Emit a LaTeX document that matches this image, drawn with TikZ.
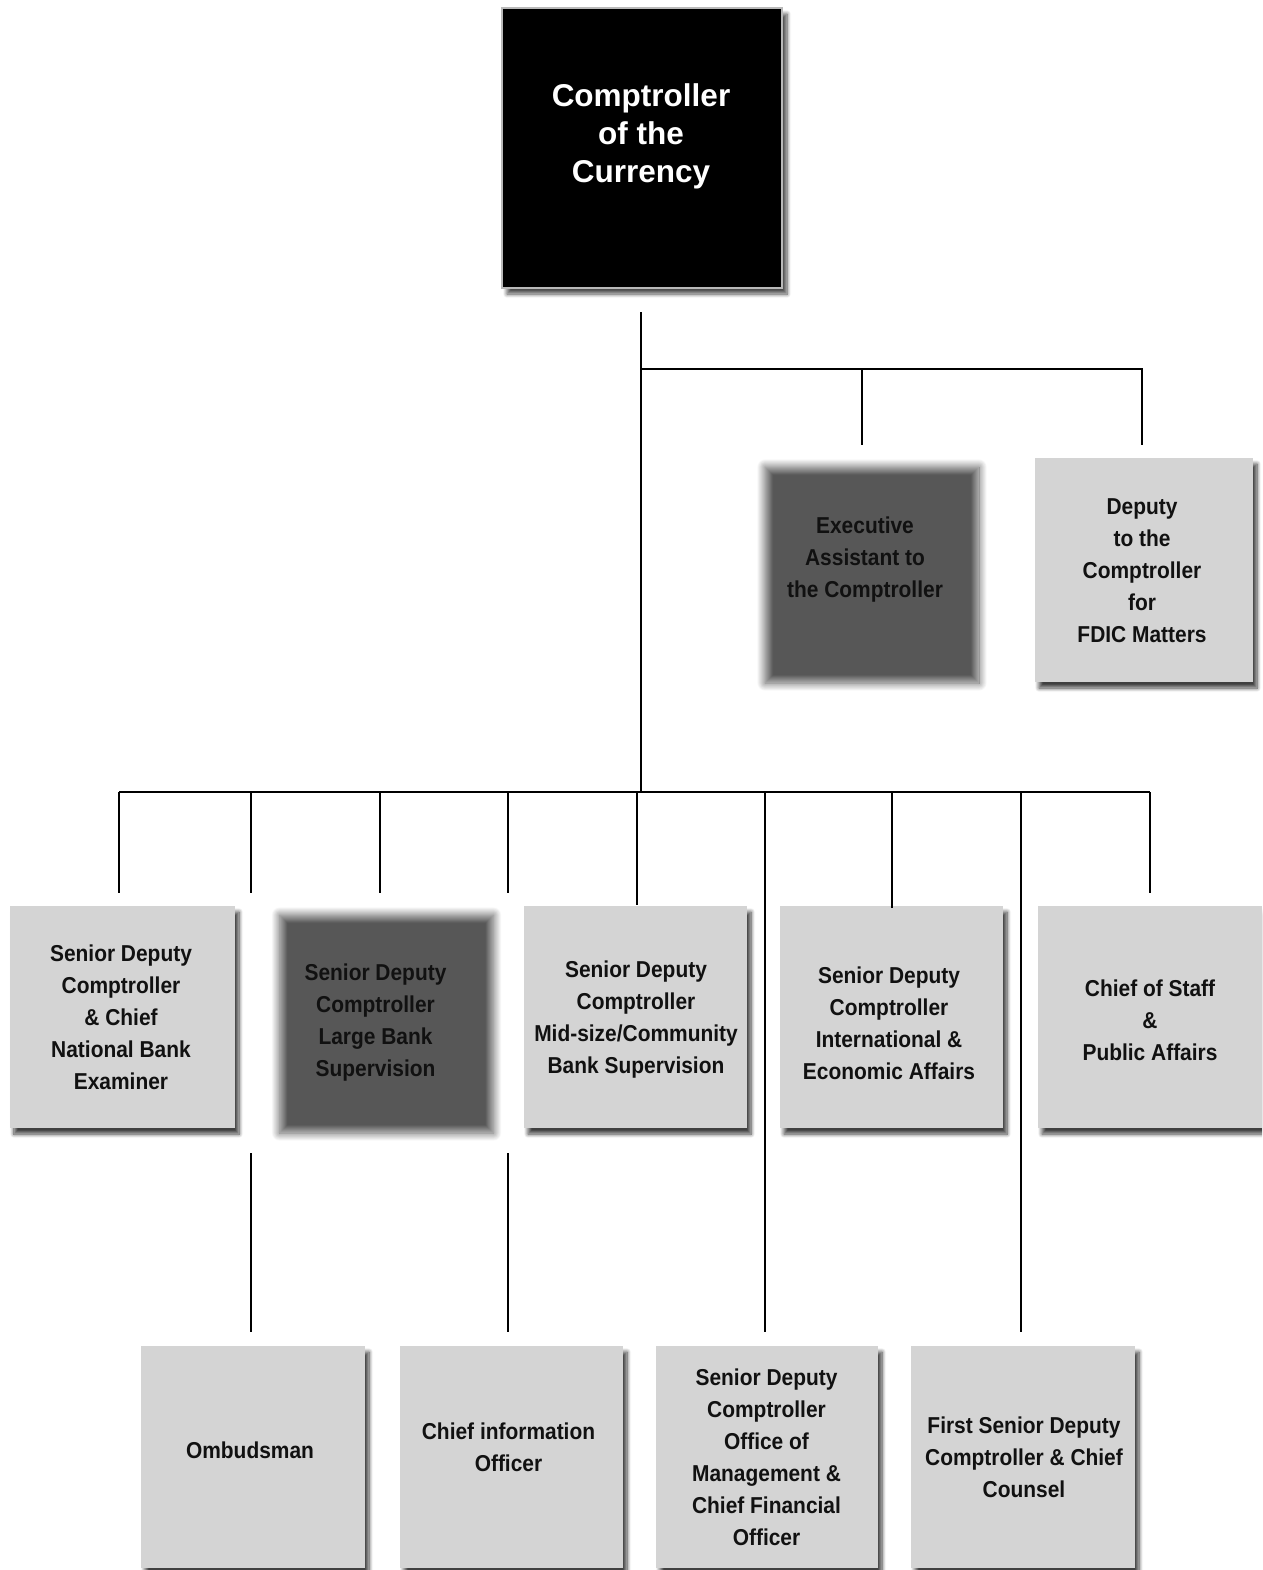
\documentclass[tikz,border=0pt]{standalone}
\usepackage{fontspec}
\setmainfont{Liberation Sans}[FakeStretch=0.91]
\newfontfamily\headfont{Liberation Sans}
\usetikzlibrary{shadows.blur}
\definecolor{boxgray}{HTML}{D4D4D4}
\definecolor{inkgray}{HTML}{111111}
\begin{document}
\begin{tikzpicture}[x=1pt,y=-1pt,
  conn/.style={line width=2.5pt, black, line cap=butt},
  lightbox/.style={fill=boxgray, inner sep=0pt, minimum width=224pt, minimum height=222pt,
    blur shadow={shadow xshift=4pt, shadow yshift=-6pt, shadow opacity=75, shadow blur radius=4pt, shadow blur steps=8}},
  darkbox/.style={inner sep=0pt, minimum width=214pt, minimum height=216pt,
    blur shadow={shadow xshift=0pt, shadow yshift=0pt, shadow opacity=66, shadow blur radius=8pt, shadow blur steps=24}},
  topbox/.style={fill=black, draw=gray!55, line width=2pt, inner sep=0pt, minimum width=280pt, minimum height=280pt,
    blur shadow={shadow xshift=5pt, shadow yshift=-6pt, shadow opacity=70, shadow blur radius=4pt, shadow blur steps=8}},
  txt/.style={align=center, text=inkgray, inner sep=0pt, font=\bfseries\fontsize{23}{32}\selectfont},
  toptxt/.style={align=center, text=white, inner sep=0pt, font=\headfont\bfseries\fontsize{31.5}{38}\selectfont}]
\useasboundingbox (0,0) rectangle (1262,1570);
\clip (0,0) rectangle (1262,1570);

% ---------- boxes ----------
\node[topbox] (top) at (642,148) {};
\node[toptxt] (toptext) at (641,136) {Comptroller\\of the\\Currency};

\node[darkbox] (exec) at (872,575) {};
\node[txt] (exectext) at (865,560) {Executive\\Assistant to\\the Comptroller};

\node[lightbox, minimum width=218pt, minimum height=224pt] (fdic) at (1144,570) {};
\node[txt] (fdictext) at (1142,571) {Deputy\\to the\\Comptroller\\for\\FDIC Matters};

\node[lightbox, minimum width=225pt] (sdcA) at (122.5,1017) {};
\node[txt] (sdcAtext) at (121,1017) {Senior Deputy\\Comptroller\\\& Chief\\National Bank\\Examiner};

\node[darkbox, minimum height=218pt] (sdcB) at (386.5,1024) {};
\node[txt] (sdcBtext) at (375.5,1023) {Senior Deputy\\Comptroller\\Large Bank\\Supervision};

\node[lightbox, minimum width=223pt] (sdcC) at (635.5,1017) {};
\node[txt] (sdcCtext) at (636,1020) {Senior Deputy\\Comptroller\\Mid-size/Community\\Bank Supervision};

\node[lightbox, minimum width=223pt] (sdcD) at (891.5,1017) {};
\node[txt] (sdcDtext) at (889,1023) {Senior Deputy\\Comptroller\\International \&\\Economic Affairs};

\node[lightbox, minimum width=224pt] (cos) at (1150,1017) {};
\node[txt] (costext) at (1150,1020) {Chief of Staff\\\&\\Public Affairs};

\node[lightbox, minimum width=224pt] (omb) at (253,1457) {};
\node[txt] (ombtext) at (250,1450) {Ombudsman};

\node[lightbox, minimum width=223pt] (cio) at (511.5,1457) {};
\node[txt] (ciotext) at (508.5,1447) {Chief information\\Officer};

\node[lightbox, minimum width=222pt] (cfo) at (767,1457) {};
\node[txt] (cfotext) at (766.5,1457) {Senior Deputy\\Comptroller\\Office of\\Management \&\\Chief Financial\\Officer};

\node[lightbox, minimum width=224pt] (fsdc) at (1023,1457) {};
\node[txt] (fsdctext) at (1024,1457) {First Senior Deputy\\Comptroller \& Chief\\Counsel};

% ---------- connectors ----------
\coordinate (trunkTop) at (641,312);
\coordinate (trunkBot) at (641,792);
\coordinate (brL) at (641,369);
\coordinate (brM) at (862,369);
\coordinate (brR) at (1142,369);
\coordinate (execIn) at (862,445);
\coordinate (fdicIn) at (1142,445);
\draw[conn] (trunkTop) -- (trunkBot);
\draw[conn] (brL) -- (brR) -- (fdicIn);
\draw[conn] (brM) -- (execIn);

\coordinate (busL) at (119,792);
\coordinate (busR) at (1150,792);
\draw[conn] (busL) -- (busR);

\foreach \n/\x/\y in {a/119/893, b/251/893, c/380/893, d/508/893, e/637/905,
                      f/765/1332, g/892/908, h/1021/1332, i/1150/893}{
  \coordinate (up\n) at (\x,792);
  \coordinate (dn\n) at (\x,\y);
  \draw[conn] (up\n) -- (dn\n);
}
\foreach \n/\x in {b/251, d/508}{
  \coordinate (lo\n) at (\x,1153);
  \coordinate (end\n) at (\x,1332);
  \draw[conn] (lo\n) -- (end\n);
}
\end{tikzpicture}
\end{document}
